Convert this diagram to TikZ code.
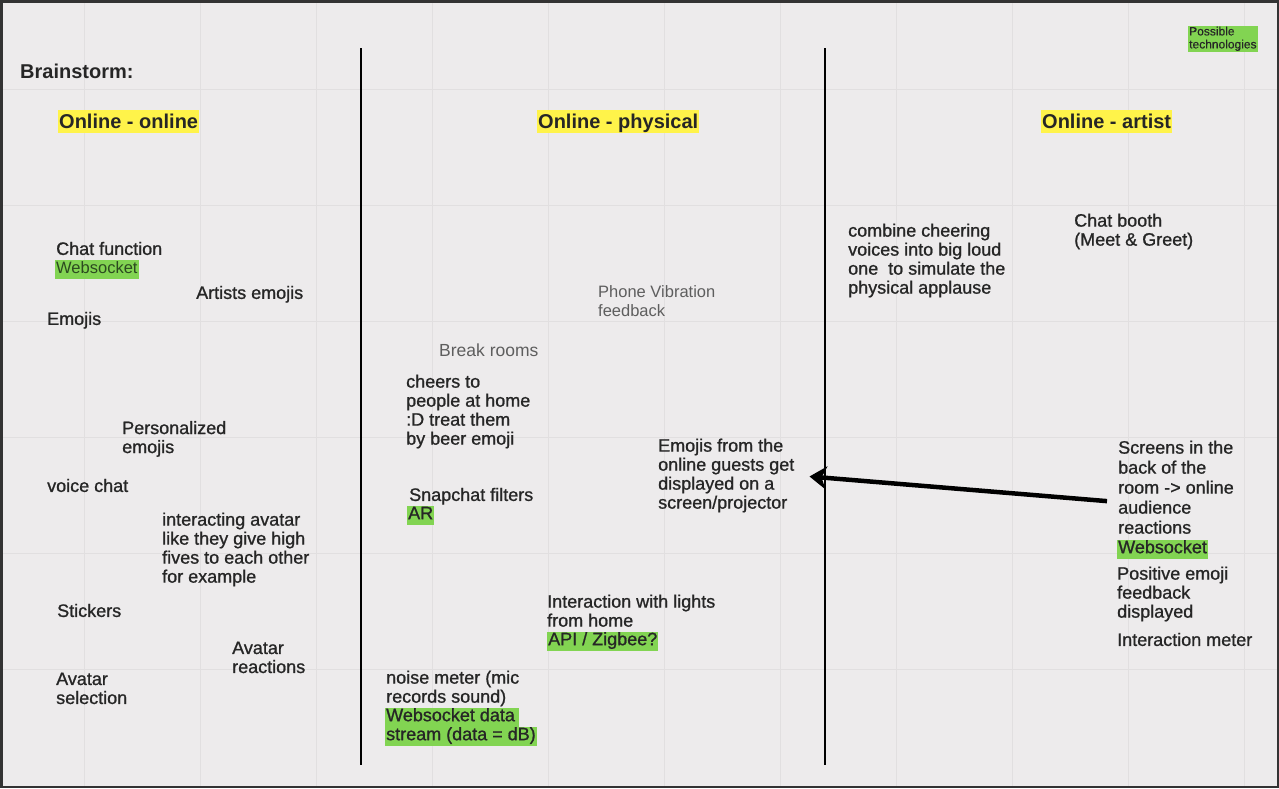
\documentclass[tikz,border=0pt]{standalone}
\usepackage{fontspec}
\setmainfont{Liberation Sans}
\newfontfamily\bodyf{Liberation Sans}[FakeBold=1.0]
\newfontfamily\plainf{Liberation Sans}
\newfontfamily\legf{Liberation Sans}[FakeBold=0.5]
\usetikzlibrary{arrows.meta}
\definecolor{bgc}{HTML}{EDEBEC}
\definecolor{gridc}{HTML}{E1DFE0}
\definecolor{txt}{HTML}{262626}
\definecolor{greyt}{HTML}{5E5E5E}
\definecolor{hlgreen}{HTML}{82D452}
\definecolor{hlyellow}{HTML}{FFF34A}
\definecolor{wsgreen}{HTML}{2C4A20}
\tikzset{
  item/.style={anchor=north west, inner sep=0pt, align=left, text=txt, yshift=-2pt,
    font=\bodyf\fontsize{18}{19}\selectfont, execute at begin node=\strut},
  itemwide/.style={item, font=\bodyf\fontsize{18}{20}\selectfont},
  greyitem/.style={anchor=north west, inner sep=0pt, align=left, text=greyt, yshift=-2pt,
    font=\plainf\fontsize{16.5}{19}\selectfont, execute at begin node=\strut},
  hl/.style={anchor=base west, fill=hlgreen, text=txt, inner xsep=1pt, inner ysep=0pt, yshift=-1.5pt,
    text height=13.5pt, text depth=5.3pt, font=\bodyf\fontsize{18}{19}\selectfont},
  header/.style={anchor=base west, fill=hlyellow, text=txt, inner xsep=1pt, inner ysep=0pt,
    text height=18pt, text depth=5pt, font=\bfseries\fontsize{20}{22}\selectfont},
  sep/.style={line width=2pt, black},
  gridline/.style={line width=1pt, gridc},
  bigarrow/.style={line width=4.5pt, black, -{Stealth[length=17pt,width=23pt,inset=5pt]}}
}
\begin{document}
\begin{tikzpicture}[x=1pt,y=-1pt]
\useasboundingbox (0,0) rectangle (1279,788);
\fill[bgc] (0,0) rectangle (1279,788);
% grid
\foreach \gx in {84,200,316,432,548,664,780,896,1012,1128,1244}
  \draw[gridline] (\gx,0) -- (\gx,788);
\foreach \gy in {89,205,321,437,553,669}
  \draw[gridline] (0,\gy) -- (1279,\gy);
\draw[line width=2.5pt, black!80] (1.25,1.25) rectangle (1277.75,786.75);
% separators
\coordinate (s1t) at (361,48);
\coordinate (s1b) at (361,765);
\coordinate (s2t) at (825,48);
\coordinate (s2b) at (825,765);
\draw[sep] (s1t) -- (s1b);
\draw[sep] (s2t) -- (s2b);
% titles
\node[anchor=base west, inner sep=0pt, text=txt, font=\bfseries\fontsize{20}{22}\selectfont] (brain) at (20,78.5) {Brainstorm:};
\node[header] (h1) at (58,128) {Online - online};
\node[header] (h2) at (537,128) {Online - physical};
\node[header] (h3) at (1041,128) {Online - artist};
\node[anchor=north west, fill=hlgreen, inner sep=1pt, align=left, text=txt,
  font=\legf\fontsize{12}{13}\selectfont] (legend) at (1188,25.5) {Possible\\technologies};
% left column
\node[item] (chatf) at (56,239.4) {Chat function};
\node[hl, text=wsgreen, font=\plainf\fontsize{16.5}{19}\selectfont] (ws1) at (55,271.7) {Websocket};
\node[item] (arte) at (196,283.4) {Artists emojis};
\node[item] (emo) at (47,309.4) {Emojis};
\node[item] (pers) at (122,418.8) {Personalized\\emojis};
\node[item] (voice) at (47,476.4) {voice chat};
\node[item] (inter) at (162,510.4) {interacting avatar\\like they give high\\fives to each other\\for example};
\node[item] (stick) at (57,601.4) {Stickers};
\node[item] (avre) at (232,639.4) {Avatar\\reactions};
\node[item] (avsel) at (56,670.4) {Avatar\\selection};
% middle column
\node[greyitem, font=\plainf\fontsize{17.5}{19}\selectfont] (brk) at (439,341.2) {Break rooms};
\node[item] (cheers) at (406,372.4) {cheers to\\people at home\\:D treat them\\by beer emoji};
\node[item] (snap) at (409,485.4) {Snapchat filters};
\node[hl] (ar) at (407,517.7) {AR};
\node[greyitem] (phone) at (598,283) {Phone Vibration\\feedback};
\node[item] (emofrom) at (658,436.4) {Emojis from the\\online guests get\\displayed on a\\screen/projector};
\node[item] (lights) at (547,592.4) {Interaction with lights\\from home};
\node[hl] (api) at (547,643.7) {API / Zigbee?};
\node[item] (noise) at (386,668.4) {noise meter (mic\\records sound)};
\node[hl] (wsd1) at (385,719.7) {Websocket data\,};
\node[hl] (wsd2) at (385,738.7) {stream (data = dB)};
% right column
\node[item] (comb) at (848,221.4) {combine cheering\\voices into big loud\\one\ \ to simulate the\\physical applause};
\node[item] (booth) at (1074,211.4) {Chat booth\\(Meet \& Greet)};
\node[itemwide] (screens) at (1118,438.4) {Screens in the\\back of the\\room -> online\\audience\\reactions};
\node[hl] (ws2) at (1117,551.7) {Websocket};
\node[item] (posit) at (1117,564.4) {Positive emoji\\feedback\\displayed};
\node[item] (imeter) at (1117,630.4) {Interaction meter};
% arrow
\draw[bigarrow] ([xshift=-11pt,yshift=-11pt]screens.west) -- ([xshift=15pt]emofrom.east);
\end{tikzpicture}
\end{document}
